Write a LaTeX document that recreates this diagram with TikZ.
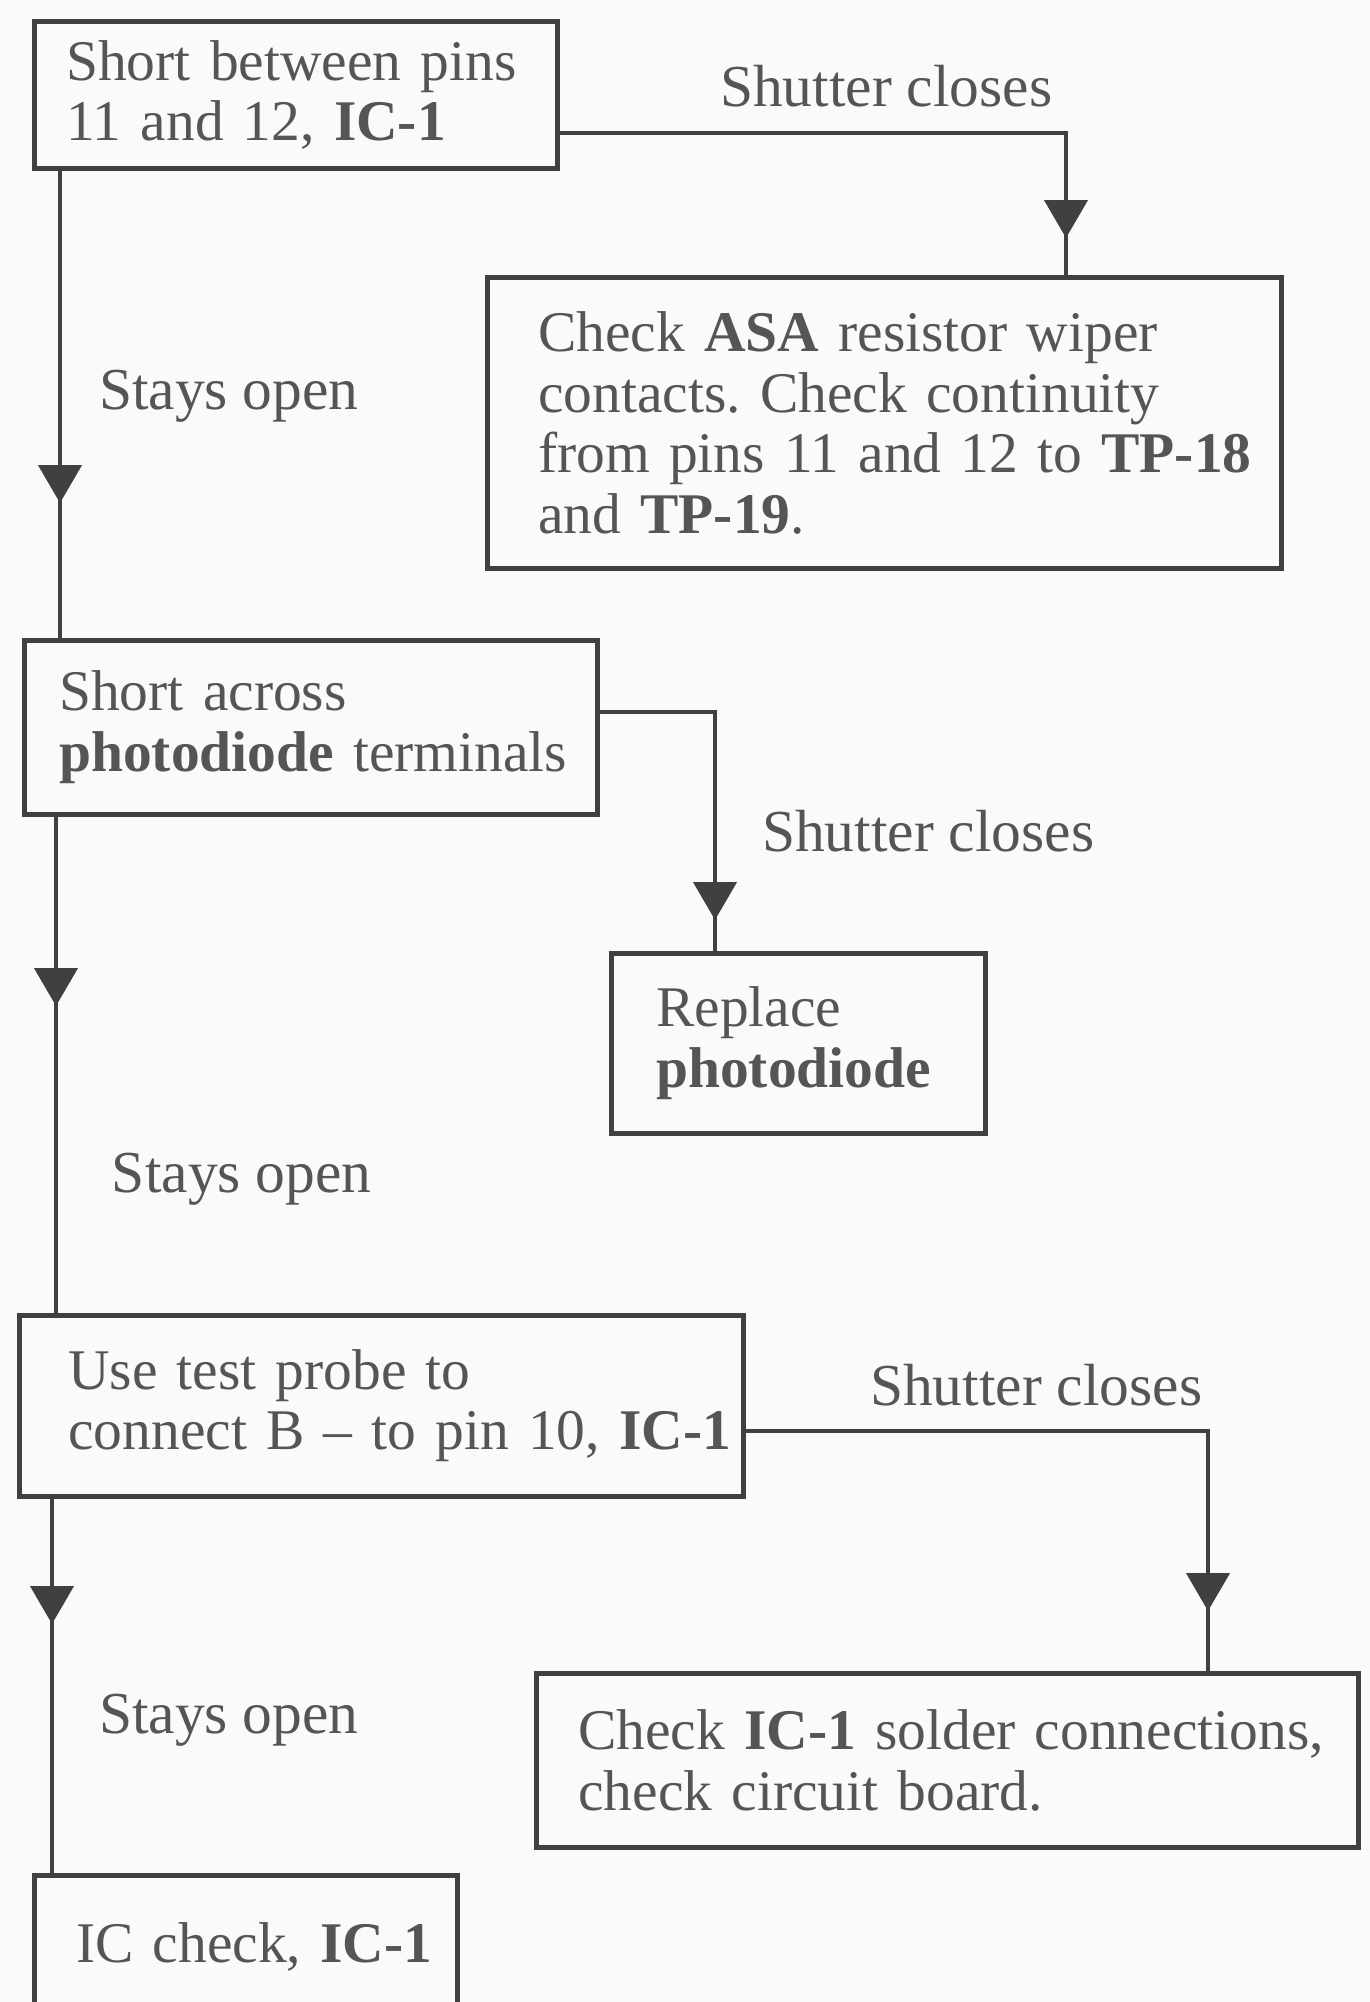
\documentclass[tikz,border=0pt]{standalone}
\usepackage{fontspec}
\setmainfont{Liberation Serif}
\usetikzlibrary{arrows.meta,decorations.markings}
\frenchspacing

\definecolor{paper}{HTML}{FAFAF8}
\definecolor{ink}{HTML}{404040}
\definecolor{print}{HTML}{555555}

\tikzset{
  stepbox/.style={draw=ink, line width=0.9pt, anchor=north west, align=left, inner ysep=0pt,
      text=print, font=\fontsize{11.5}{12.1}\selectfont},
  link/.style={draw=ink, color=ink, line width=0.9pt},
  tipat/.style={postaction={decorate, decoration={markings,
      mark=at position #1 with {\arrow{Triangle[width=8.6pt,length=7.6pt]}}}}},
  answer/.style={anchor=base west, inner sep=0pt, text=print}
}

\begin{document}
\begin{tikzpicture}[x=0.2pt, y=-0.2pt, font=\fontsize{11.9}{12.1}\selectfont]
    \useasboundingbox (0,0) rectangle (1370,2002);
    \clip (0,0) rectangle (1370,2002);
    \fill[paper] (0,0) rectangle (1370,2002);

    % Define the bends of the connectors
    \coordinate (k1) at (1066,133);
    \coordinate (k2) at (715,712);
    \coordinate (k3) at (1208,1431);
    \coordinate (d1) at (60,0);
    \coordinate (d2) at (56,0);
    \coordinate (d3) at (52,0);

    % Draw the boxes
    \node[stepbox, inner xsep=6.4pt, text width=91.8pt, minimum height=29.4pt] (short1) at (32,19)
        {\mbox{Short between pins}\\\mbox{11 and 12, \textbf{IC-1}}};
    \node[stepbox, inner xsep=10.2pt, text width=138.4pt, minimum height=58.2pt] (check1) at (485,275)
        {\mbox{Check \textbf{ASA} resistor wiper}\\\mbox{contacts. Check continuity}\\\mbox{from pins 11 and 12 to \textbf{TP-18}}\\\mbox{and \textbf{TP-19}.}};
    \node[stepbox, inner xsep=7pt, text width=100.6pt, minimum height=34.8pt] (across) at (22,638)
        {\mbox{Short across}\\\mbox{\textbf{photodiode} terminals}};
    \node[stepbox, inner xsep=9pt, text width=56.8pt, minimum height=36pt] (replace) at (609,951)
        {\mbox{Replace}\\\mbox{\textbf{photodiode}}};
    \node[stepbox, inner xsep=9.8pt, text width=125.2pt, minimum height=36.2pt] (probe) at (17,1313)
        {\mbox{Use test probe to}\\\mbox{connect B -- to pin 10, \textbf{IC-1}}};
    \node[stepbox, inner xsep=8.4pt, text width=147.6pt, minimum height=34.8pt] (solder) at (534,1671)
        {\mbox{Check \textbf{IC-1} solder connections,}\\\mbox{check circuit board.}};
    \node[stepbox, inner xsep=8.4pt, text width=67.8pt, minimum height=28.8pt] (iccheck) at (32,1873)
        {\mbox{IC check, \textbf{IC-1}}};

    % Draw the connectors
    \draw[link, tipat=-7.4pt] (short1.east |- k1) -| (k1 |- check1.north);
    \draw[link, tipat=-27pt] (d1 |- short1.south) -- (d1 |- across.north);
    \draw[link, tipat=-6.2pt] (across.east |- k2) -| (k2 |- replace.north);
    \draw[link, tipat=-61.4pt] (d2 |- across.south) -- (d2 |- probe.north);
    \draw[link, tipat=-12pt] (probe.east |- k3) -| (k3 |- solder.north);
    \draw[link, tipat=-49.8pt] (d3 |- probe.south) -- (d3 |- iccheck.north);

    % Place the answers
    \node[answer] (close1) at (719,106) {Shutter closes};
    \node[answer] (open1) at (98,409) {Stays open};
    \node[answer] (close2) at (761,851) {Shutter closes};
    \node[answer] (open2) at (111,1192) {Stays open};
    \node[answer] (close3) at (869,1405) {Shutter closes};
    \node[answer] (open3) at (98,1733) {Stays open};

\end{tikzpicture}
\end{document}
